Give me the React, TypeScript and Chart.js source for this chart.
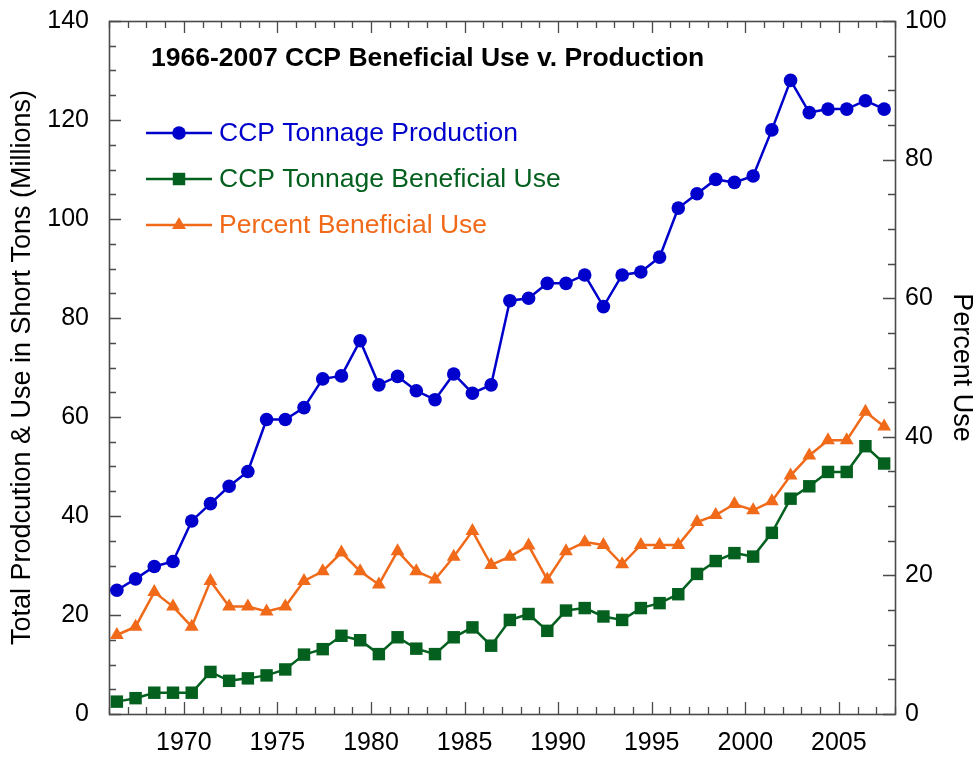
import React, { useEffect, useRef } from 'react';
import { Chart, registerables } from 'chart.js';

Chart.register(...registerables);

// ---------- data ----------
const years = [
  1966, 1967, 1968, 1969, 1970, 1971, 1972, 1973, 1974, 1975,
  1976, 1977, 1978, 1979, 1980, 1981, 1982, 1983, 1984, 1985,
  1986, 1987, 1988, 1989, 1990, 1991, 1992, 1993, 1994, 1995,
  1996, 1997, 1998, 1999, 2000, 2001, 2002, 2003, 2004, 2005,
  2006, 2007,
];

// CCP Tonnage Production (millions of short tons)
const production = [
  25.0, 27.3, 29.8, 30.8, 39.0, 42.5, 46.0, 49.0, 59.5, 59.5,
  61.9, 67.7, 68.3, 75.4, 66.5, 68.2, 65.3, 63.5, 68.7, 64.8,
  66.5, 83.5, 84.0, 87.0, 87.0, 88.7, 82.3, 88.7, 89.3, 92.3,
  102.2, 105.1, 108.0, 107.4, 108.7, 118.0, 128.0, 121.5, 122.2, 122.2,
  123.9, 122.2,
];

// CCP Tonnage Beneficial Use (millions of short tons)
const beneficialUse = [
  2.5, 3.2, 4.3, 4.3, 4.3, 8.5, 6.7, 7.2, 7.8, 9.0,
  12.0, 13.1, 15.8, 14.9, 12.1, 15.5, 13.2, 12.1, 15.5, 17.5,
  13.8, 19.0, 20.2, 16.8, 20.9, 21.4, 19.7, 19.0, 21.4, 22.4,
  24.2, 28.3, 30.9, 32.5, 31.8, 36.6, 43.5, 46.0, 48.9, 48.9,
  54.1, 50.6,
];

// Percent Beneficial Use (%)
const percentUse = [
  11.4, 12.6, 17.6, 15.5, 12.6, 19.2, 15.5, 15.5, 14.8, 15.5,
  19.2, 20.6, 23.3, 20.6, 18.7, 23.5, 20.6, 19.4, 22.7, 26.4,
  21.5, 22.7, 24.3, 19.4, 23.5, 24.8, 24.4, 21.6, 24.4, 24.4,
  24.4, 27.7, 28.7, 30.3, 29.4, 30.7, 34.4, 37.3, 39.5, 39.5,
  43.6, 41.5,
];

const xTickLabels = [1970, 1975, 1980, 1985, 1990, 1995, 2000, 2005];
const leftTickLabels = [0, 20, 40, 60, 80, 100, 120, 140];
const rightTickLabels = [0, 20, 40, 60, 80, 100];

const seriesLabels = [
  'CCP Tonnage Production',
  'CCP Tonnage Beneficial Use',
  'Percent Beneficial Use',
];
const chartTitle = '1966-2007 CCP Beneficial Use v. Production';
const leftAxisTitle = 'Total Prodcution & Use in Short Tons (Millions)';
const rightAxisTitle = 'Percent Use';

// points sit a little to the right of each year's tick in the original
const POINT_SHIFT = 0.42;

// ---------- styling ----------
const FONT = '"Liberation Sans", Arial, Helvetica, sans-serif';
const BLUE = '#0000cc';
const GREEN = '#04601e';
const ORANGE = '#f06a1a';
const FRAME = '#4a4a4a';

const toXY = (vals: number[]) => vals.map((v, i) => ({ x: years[i] + POINT_SHIFT, y: v }));

const framePlugin = {
  id: 'frameTicks',
  beforeDatasetsDraw(chart: any) {
    const { ctx, chartArea: a, scales } = chart;
    const xs = scales.x;
    const yl = scales.y;
    const yr = scales.y2;
    ctx.save();
    ctx.strokeStyle = FRAME;
    ctx.lineWidth = 1.3;
    ctx.beginPath();
    for (let yv = xs.min; yv <= xs.max; yv += 1) {
      const px = Math.round(xs.getPixelForValue(yv)) + 0.5;
      const len = yv % 5 === 0 ? 12 : 7;
      ctx.moveTo(px, a.bottom);
      ctx.lineTo(px, a.bottom - len);
      ctx.moveTo(px, a.top);
      ctx.lineTo(px, a.top + len);
    }
    for (let v = yl.min; v <= yl.max; v += 5) {
      const py = Math.round(yl.getPixelForValue(v)) + 0.5;
      const len = v % 20 === 0 ? 12 : 7;
      ctx.moveTo(a.left, py);
      ctx.lineTo(a.left + len, py);
    }
    for (let v = yr.min; v <= yr.max; v += 5) {
      const py = Math.round(yr.getPixelForValue(v)) + 0.5;
      const len = v % 20 === 0 ? 12 : 7;
      ctx.moveTo(a.right, py);
      ctx.lineTo(a.right - len, py);
    }
    ctx.stroke();
    ctx.lineWidth = 1.6;
    ctx.strokeRect(a.left + 0.5, a.top + 0.5, a.right - a.left, a.bottom - a.top);
    ctx.restore();
  },
};

const drawMarker = (ctx: CanvasRenderingContext2D, style: string, x: number, y: number, r: number) => {
  ctx.beginPath();
  if (style === 'circle') {
    ctx.arc(x, y, r, 0, Math.PI * 2);
  } else if (style === 'rect') {
    const s = r * Math.SQRT1_2;
    ctx.rect(x - s, y - s, 2 * s, 2 * s);
  } else {
    const h = r;
    ctx.moveTo(x, y - h);
    ctx.lineTo(x + h * Math.sin(Math.PI / 3), y + h * 0.5);
    ctx.lineTo(x - h * Math.sin(Math.PI / 3), y + h * 0.5);
    ctx.closePath();
  }
  ctx.fill();
};

const legendTitlePlugin = {
  id: 'legendTitle',
  afterDraw(chart: any) {
    const { ctx } = chart;
    ctx.save();
    ctx.fillStyle = '#000';
    ctx.font = `bold 26.5px ${FONT}`;
    ctx.textAlign = 'left';
    ctx.textBaseline = 'middle';
    ctx.fillText(chartTitle, 151, 59);
    chart.data.datasets.forEach((ds: any, i: number) => {
      const y = 133 + i * 46;
      ctx.strokeStyle = ds.borderColor;
      ctx.lineWidth = ds.borderWidth;
      ctx.beginPath();
      ctx.moveTo(146, y);
      ctx.lineTo(212, y);
      ctx.stroke();
      ctx.fillStyle = ds.pointBackgroundColor;
      drawMarker(ctx, ds.pointStyle, 179, y, ds.pointRadius);
      ctx.fillStyle = ds.borderColor;
      ctx.font = `26.5px ${FONT}`;
      ctx.textBaseline = 'middle';
      ctx.fillText(ds.label, 219, y + 1);
    });
    ctx.restore();
  },
};

const noScalePadding = (s: any) => {
  s.paddingTop = 0;
  s.paddingBottom = 0;
  s.paddingLeft = 0;
  s.paddingRight = 0;
};

export default function App() {
  const canvasRef = useRef<HTMLCanvasElement | null>(null);

  useEffect(() => {
    const canvas = canvasRef.current;
    if (!canvas) return;
    const chart = new Chart(canvas, {
      type: 'line',
      data: {
        datasets: [
          {
            label: seriesLabels[0],
            data: toXY(production),
            yAxisID: 'y',
            borderColor: BLUE,
            backgroundColor: BLUE,
            pointBackgroundColor: BLUE,
            pointBorderColor: BLUE,
            pointStyle: 'circle',
            pointRadius: 6.8,
            pointBorderWidth: 0,
            borderWidth: 2.5,
            tension: 0,
          },
          {
            label: seriesLabels[1],
            data: toXY(beneficialUse),
            yAxisID: 'y',
            borderColor: GREEN,
            backgroundColor: GREEN,
            pointBackgroundColor: GREEN,
            pointBorderColor: GREEN,
            pointStyle: 'rect',
            pointRadius: 8.8,
            pointBorderWidth: 0,
            borderWidth: 2.5,
            tension: 0,
          },
          {
            label: seriesLabels[2],
            data: toXY(percentUse),
            yAxisID: 'y2',
            borderColor: ORANGE,
            backgroundColor: ORANGE,
            pointBackgroundColor: ORANGE,
            pointBorderColor: ORANGE,
            pointStyle: 'triangle',
            pointRadius: 8,
            pointBorderWidth: 0,
            borderWidth: 2.5,
            tension: 0,
          },
        ] as any,
      },
      options: {
        animation: false,
        responsive: false,
        maintainAspectRatio: false,
        layout: { padding: { top: 21, left: 0, right: 0, bottom: 0 } },
        plugins: {
          legend: { display: false },
          title: { display: false },
          tooltip: { enabled: false },
        },
        scales: {
          x: {
            type: 'linear',
            min: 1966,
            max: 2008,
            grid: { display: false, drawTicks: false },
            border: { display: false },
            afterBuildTicks: (s: any) => {
              s.ticks = xTickLabels.map((v) => ({ value: v }));
            },
            afterFit: (s: any) => {
              s.height = 43;
              noScalePadding(s);
            },
            ticks: {
              padding: 14,
              color: '#000',
              font: { family: FONT, size: 25 },
              callback: (v: any) => String(v),
              maxRotation: 0,
              autoSkip: false,
            },
          },
          y: {
            type: 'linear',
            position: 'left',
            min: 0,
            max: 140,
            grid: { display: false, drawTicks: false },
            border: { display: false },
            afterBuildTicks: (s: any) => {
              s.ticks = leftTickLabels.map((v) => ({ value: v }));
            },
            afterFit: (s: any) => {
              s.width = 109;
              noScalePadding(s);
            },
            ticks: {
              padding: 20,
              color: '#000',
              font: { family: FONT, size: 25 },
            },
            title: {
              display: true,
              text: leftAxisTitle,
              color: '#000',
              font: { family: FONT, size: 27 },
              padding: { top: 6, bottom: 0 },
            },
          },
          y2: {
            type: 'linear',
            position: 'right',
            min: 0,
            max: 100,
            grid: { display: false, drawTicks: false },
            border: { display: false },
            afterBuildTicks: (s: any) => {
              s.ticks = rightTickLabels.map((v) => ({ value: v }));
            },
            afterFit: (s: any) => {
              s.width = 84;
              noScalePadding(s);
            },
            ticks: {
              padding: 10,
              color: '#000',
              font: { family: FONT, size: 25 },
            },
            title: {
              display: true,
              text: rightAxisTitle,
              color: '#000',
              font: { family: FONT, size: 27 },
              padding: { top: 1, bottom: 0 },
            },
          },
        },
      } as any,
      plugins: [framePlugin, legendTitlePlugin],
    });
    return () => chart.destroy();
  }, []);

  return (
    <div style={{ position: 'fixed', left: 0, top: 0, width: 979, height: 757, background: '#fff' }}>
      <canvas ref={canvasRef} width={979} height={757} style={{ display: 'block' }} />
    </div>
  );
}
